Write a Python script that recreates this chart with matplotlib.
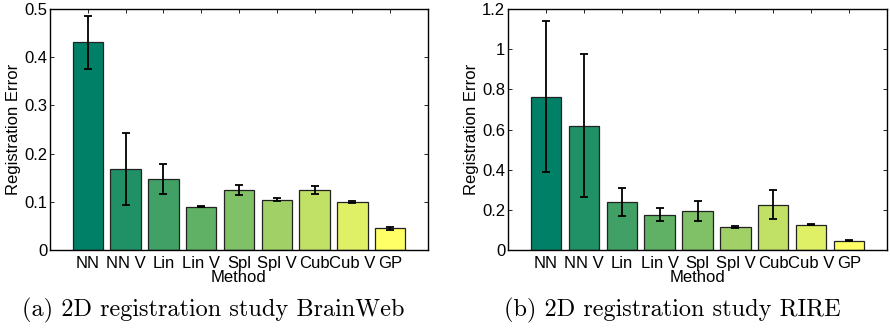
import matplotlib
matplotlib.use("Agg")
import matplotlib.pyplot as plt
import numpy as np

methods = ["NN", "NN V", "Lin", "Lin V", "Spl", "Spl V", "Cub", "Cub V", "GP"]

# 2D registration study BrainWeb
bw_mean = [0.431, 0.168, 0.147, 0.090, 0.124, 0.104, 0.125, 0.099, 0.045]
bw_err = [0.055, 0.075, 0.031, 0.001, 0.010, 0.003, 0.008, 0.002, 0.003]

# 2D registration study RIRE
rire_mean = [0.762, 0.618, 0.238, 0.175, 0.193, 0.116, 0.226, 0.126, 0.047]
rire_err = [0.376, 0.356, 0.069, 0.032, 0.049, 0.005, 0.073, 0.004, 0.002]

captions = ["(a) 2D registration study BrainWeb", "(b) 2D registration study RIRE"]

plt.rcParams['font.family'] = ['Liberation Sans', 'DejaVu Sans']


def draw_panel(ax, means, errs, ymax, ystep):
    x = np.arange(1, len(methods) + 1)
    colors = plt.cm.summer(np.linspace(0, 1, len(methods)))
    ax.bar(x, means, width=0.8, color=colors, edgecolor="#222222", linewidth=0.9, zorder=2)
    ax.errorbar(x, means, yerr=errs, fmt="none", ecolor="black", elinewidth=1.3,
                capsize=3, capthick=1.3, zorder=3)
    ax.set_xlim(0, len(methods) + 1)
    ax.set_ylim(0, ymax)
    ax.set_xticks(x)
    ax.set_xticklabels(methods, fontsize=12)
    yt = np.arange(0, ymax + 1e-9, ystep)
    ax.set_yticks(yt)
    ax.set_yticklabels(["%g" % round(v, 2) for v in yt], fontsize=12)
    ax.tick_params(direction="in", top=True, right=True, length=3, width=0.6)
    ax.tick_params(axis="y", pad=2)
    ax.tick_params(axis="x", pad=4)
    ax.set_ylabel("Registration Error", fontsize=12, labelpad=2)
    ax.set_xlabel("Method", fontsize=12, va="center")
    ax.xaxis.set_label_coords(0.5, -27 / 241)
    for s in ax.spines.values():
        s.set_linewidth(1.0)


fig = plt.figure(figsize=(8.9, 3.28), dpi=100)
ax1 = fig.add_axes([50 / 890, 1 - 250 / 328, 378 / 890, 241 / 328])
ax2 = fig.add_axes([508 / 890, 1 - 250 / 328, 379 / 890, 241 / 328])

draw_panel(ax1, bw_mean, bw_err, 0.5, 0.1)
draw_panel(ax2, rire_mean, rire_err, 1.2, 0.2)

fig.text(213 / 890, 1 - 310 / 328, captions[0], ha="center", va="center",
         fontsize=17.5, family=["cmr10", "DejaVu Serif"])
fig.text(672 / 890, 1 - 310 / 328, captions[1], ha="center", va="center",
         fontsize=17.5, family=["cmr10", "DejaVu Serif"])

fig.savefig("out.png", dpi=100)
